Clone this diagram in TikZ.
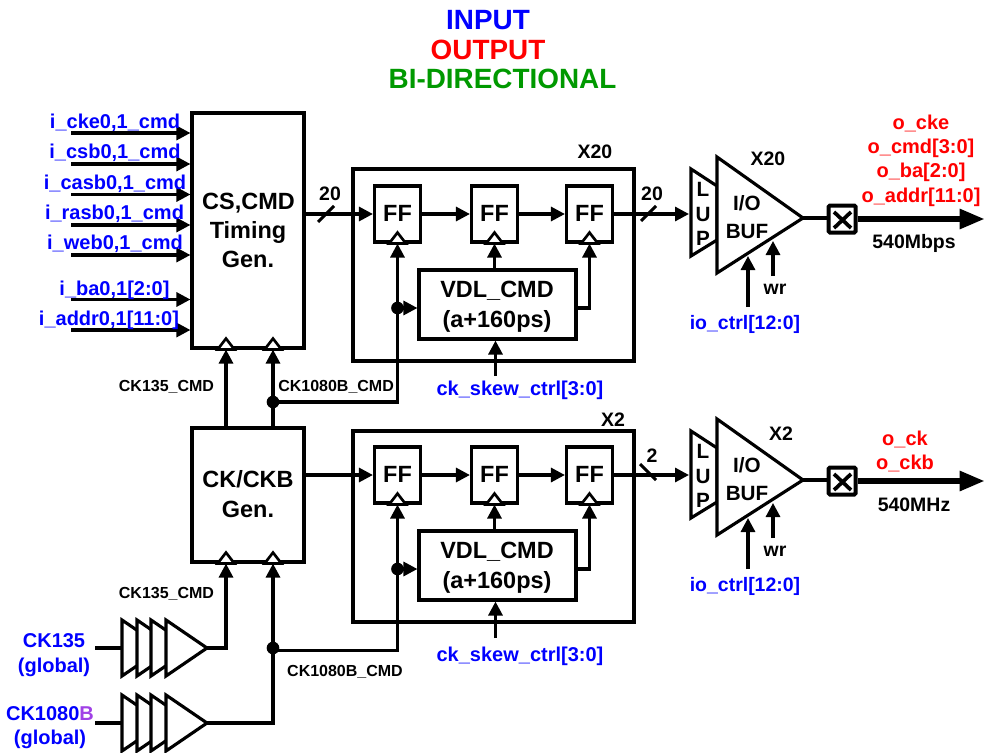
\documentclass[tikz,border=0pt]{standalone}
\usepackage{fontspec}
\setmainfont{Liberation Sans}
\usetikzlibrary{arrows.meta}
\definecolor{inblue}{RGB}{0,0,255}
\definecolor{outred}{RGB}{255,0,0}
\definecolor{bigreen}{RGB}{0,153,0}
\definecolor{bpurple}{RGB}{160,64,230}
\newcommand\clockmark[1]{\draw[clk,shift={(#1)}] (-8.5,0) -- (0,-11) -- (8.5,0) -- cycle;}
\newcommand\bufstack[1]{%
  \foreach \dx in {0,15,29}{\draw[tri,shift={(#1)}] (\dx,-28) -- (\dx+41,0) -- (\dx,28) -- cycle;}%
  \draw[tri,shift={(#1)}] (44,-28) -- (85,0) -- (44,28) -- cycle;}
\tikzset{
  pxbox/.style 2 args={minimum width=#1*0.75pt,minimum height=#2*0.75pt},
  blk/.style={draw,line width=2.35pt,fill=white,inner sep=0pt,align=center},
  w/.style={line width=2.35pt},
  a/.style={w,-{Triangle[length=10.5pt,width=10.5pt]}},
  hv/.style={line width=5pt,-{Triangle[length=19pt,width=14pt]}},
  clk/.style={line width=2pt,fill=white,line join=miter},
  tri/.style={line width=2.35pt,fill=white,line join=miter},
  dot/.style={circle,fill=black,inner sep=0pt,minimum size=9.5pt},
  lab/.style={inner sep=0pt,font=\fontsize{14.6pt}{17pt}\bfseries,text height=10.5pt,text depth=0pt},
  lupl/.style={lab,font=\fontsize{15.5pt}{17pt}\bfseries},
  glob/.style={lab,font=\fontsize{15pt}{18pt}\bfseries,text=inblue},
  sm/.style={inner sep=0pt,font=\fontsize{12pt}{14pt}\bfseries,text height=8.6pt,text depth=0pt},
  big/.style={inner sep=0pt,font=\fontsize{17.6pt}{20pt}\bfseries,text height=12.8pt,text depth=0pt},
  ttl/.style={inner sep=0pt,font=\fontsize{20.9pt}{24pt}\bfseries,text height=14.8pt,text depth=0pt},
  inl/.style={lab,font=\fontsize{15pt}{17pt}\bfseries,text=inblue},
  outl/.style={lab,font=\fontsize{15pt}{17pt}\bfseries,text=outred},
}
\begin{document}
\begin{tikzpicture}[x=0.75pt,y=-0.75pt]
\useasboundingbox (0,0) rectangle (985,753);
\fill[white] (0,0) rectangle (985,753);
% titles
\node[ttl,text=inblue] (t1) at (488,20) {INPUT};
\node[ttl,text=outred] (t2) at (488,50) {OUTPUT};
\node[ttl,text=bigreen] (t3) at (502.5,79) {BI-DIRECTIONAL};
% main blocks
\node[blk,pxbox={112}{235}] (cs) at (248,230.5) {};
\node[blk,pxbox={112}{134}] (gen) at (248,495) {};
\node[big] (cst1) at (248.5,201) {CS,CMD};
\node[big] (cst2) at (248,230) {Timing};
\node[big] (cst3) at (248,259) {Gen.};
\node[big] (gent1) at (248,479) {CK/CKB};
\node[big] (gent2) at (248,509) {Gen.};
% X20 / X2 containers
\node[blk,pxbox={281}{192}] (xa) at (493.5,265) {};
\node[blk,pxbox={281}{191}] (xb) at (493.5,526.5) {};
% FF
\foreach \n/\x in {1/397.5,2/494.5,3/589.5}{
  \node[blk,pxbox={46}{56}] (ffa\n) at (\x,214) {};
  \node[big] (ffat\n) at (\x,213) {FF};
  \node[blk,pxbox={46}{56}] (ffb\n) at (\x,475) {};
  \node[big] (ffbt\n) at (\x,473.5) {FF};
  \clockmark{ffa\n.south}
  \clockmark{ffb\n.south}
}
% VDL
\node[blk,pxbox={157}{69}] (vdla) at (497.5,304.5) {};
\node[blk,pxbox={157}{69}] (vdlb) at (497.5,565.5) {};
\node[big] (vdlat1) at (497,289) {VDL\_CMD};
\node[big] (vdlat2) at (497,318.5) {(a+160ps)};
\node[big] (vdlbt1) at (497,550) {VDL\_CMD};
\node[big] (vdlbt2) at (497,579.5) {(a+160ps)};
% clock marks on main blocks
\coordinate (cx1) at (226,0);
\coordinate (cx2) at (273,0);
\clockmark{cs.south -| cx1}
\clockmark{cs.south -| cx2}
\clockmark{gen.south -| cx1}
\clockmark{gen.south -| cx2}
% input wires
\foreach \n/\y/\x/\ly/\txt in {
  1/133/115/121/i\_cke0{,}1\_cmd,
  2/164/115/151/i\_csb0{,}1\_cmd,
  3/194.5/115/182/i\_casb0{,}1\_cmd,
  4/225/114.5/212/i\_rasb0{,}1\_cmd,
  5/255/115/242/i\_web0{,}1\_cmd,
  6/299.5/114.5/288/i\_ba0{,}1[2:0],
  7/330/109/318/i\_addr0{,}1[11:0]}{
  \coordinate (in\n) at (71,\y);
  \draw[a] (in\n) -- (in\n -| cs.west);
  \node[inl] (inl\n) at (\x,\ly) {\txt};
}
% clock wires between blocks
\draw[a] (gen.north -| cx1) -- (cs.south -| cx1);
\draw[a] (gen.north -| cx2) -- (cs.south -| cx2);
\node[dot] (na) at (273,402) {};
\node[dot] (da) at (397.5,308) {};
\node[dot] (nb) at (273,648) {};
\node[dot] (db) at (397.5,569) {};
\coordinate (bendb) at (273,650.5);
\draw[a] (na.center) -| (ffa1.south);
\draw[a] (da.center) -- (da -| vdla.west);
\draw[a] (vdla.north -| ffa2) -- (ffa2.south);
\draw[a] (vdla.east |- da) -| (ffa3.south);
\draw[a] (bendb) -| (ffb1.south);
\draw[a] (db.center) -- (db -| vdlb.west);
\draw[a] (vdlb.north -| ffb2) -- (ffb2.south);
\draw[a] (vdlb.east |- db) -| (ffb3.south);
\coordinate (ska) at (495.5,376);
\coordinate (skb) at (495.5,638);
\draw[a] (ska) -- (ska |- vdla.south);
\draw[a] (skb) -- (skb |- vdlb.south);
% data wires
\draw[a] (cs.east |- ffa1) -- (ffa1.west);
\draw[a] (ffa1.east) -- (ffa2.west);
\draw[a] (ffa2.east) -- (ffa3.west);
\draw[a] (gen.east |- ffb1) -- (ffb1.west);
\draw[a] (ffb1.east) -- (ffb2.west);
\draw[a] (ffb2.east) -- (ffb3.west);
% bus slashes
\coordinate (s1a) at (318,222); \coordinate (s1b) at (334,206);
\draw[w] (s1a) -- (s1b);
\coordinate (s2a) at (641,221); \coordinate (s2b) at (656,206);
\draw[w] (s2a) -- (s2b);
\coordinate (s3a) at (640,464); \coordinate (s3b) at (656,480);
\draw[w] (s3a) -- (s3b);
\node[lab] (n20a) at (330,193) {20};
\node[lab] (n20b) at (652,193) {20};
\node[lab] (n2) at (652,455) {2};
% LUP and I/O buffers
\foreach \dy/\s in {0/a,262/b}{
  \begin{scope}[shift={(0,\dy)}]
    \coordinate (lup\s) at (689,213);
    \coordinate (out\s) at (803,218);
    \draw[tri] (691,169) -- (717,186) -- (717,240) -- (691,256) -- cycle;
    \draw[tri] (717,157) -- (803,218) -- (717,273) -- cycle;
    \node[lupl] (l\s) at (703,189) {L};
    \node[lupl] (u\s) at (703,214) {U};
    \node[lupl] (p\s) at (703,238) {P};
    \node[lupl] (io\s) at (747,203) {I/O};
    \node[lupl] (bf\s) at (747,231) {BUF};
    \node[draw,line width=3pt,rounded corners=1pt,fill=white,pxbox={27}{27},inner sep=0pt] (pad\s) at (842,219) {};
    \coordinate (xa\s) at (834,212); \coordinate (xb\s) at (851,228);
    \coordinate (xc\s) at (851,212); \coordinate (xd\s) at (834,228);
    \draw[line width=2.8pt] (xa\s) -- (xb\s);
    \draw[line width=2.8pt] (xc\s) -- (xd\s);
    \coordinate (end\s) at (985,219);
    \draw[hv] (pad\s.east) -- (end\s);
    \draw[w] (out\s) -- (pad\s.west |- out\s);
    \coordinate (ioin\s) at (748,307); \coordinate (iot\s) at (748,256);
    \coordinate (wrin\s) at (773,276); \coordinate (wrt\s) at (773,241);
    \draw[a] (ioin\s) -- (iot\s);
    \draw[a] (wrin\s) -- (wrt\s);
    \node[lab] (wr\s) at (775,287) {wr};
    \node[lab,text=inblue] (ioc\s) at (745,322) {io\_ctrl[12:0]};
  \end{scope}
}
\draw[a] (ffa3.east) -- (ffa3.east -| lupa);
\draw[a] (ffb3.east) -- (ffb3.east -| lupb);
% texts
\node[lab] (xl1) at (595,151) {X20};
\node[lab] (xl2) at (613,419) {X2};
\node[lab] (xl3) at (768,158) {X20};
\node[lab] (xl4) at (781,433) {X2};
\node[outl] (o1) at (921,122) {o\_cke};
\node[outl] (o2) at (921,146) {o\_cmd[3:0]};
\node[outl] (o3) at (921,170) {o\_ba[2:0]};
\node[outl] (o4) at (921,195) {o\_addr[11:0]};
\node[outl] (o5) at (905,438) {o\_ck};
\node[outl] (o6) at (905,462) {o\_ckb};
\node[lab] (r1) at (914,241) {540Mbps};
\node[lab] (r2) at (914,504) {540MHz};
\node[inl] (sk1) at (520,388) {ck\_skew\_ctrl[3:0]};
\node[inl] (sk2) at (520,654) {ck\_skew\_ctrl[3:0]};
\node[sm] (c1) at (166.5,386) {CK135\_CMD};
\node[sm,anchor=west] (c2) at (278,386) {CK1080B\_CMD};
\node[sm] (c3) at (166.5,593) {CK135\_CMD};
\node[sm] (c4) at (345,671) {CK1080B\_CMD};
% clock buffers
\bufstack{122,648}
\bufstack{122,723}
\coordinate (cin1) at (95,648); \coordinate (cin2) at (95,723);
\coordinate (cb1) at (122,648); \coordinate (cb2) at (122,723);
\coordinate (cout1) at (207,648); \coordinate (cout2) at (207,723);
\draw[w] (cin1) -- (cb1);
\draw[w] (cin2) -- (cb2);
\draw[a] (cout1) -| (gen.south -| cx1);
\draw[a] (cout2) -| (gen.south -| cx2);
\draw[w] (nb.center) -- (bendb);
\node[glob] (k1) at (54,640) {CK135};
\node[glob] (k2) at (54,665) {(global)};
\node[glob] (k3) at (50,713) {CK1080\textcolor{bpurple}{B}};
\node[glob] (k4) at (50,737) {(global)};
\end{tikzpicture}
\end{document}
